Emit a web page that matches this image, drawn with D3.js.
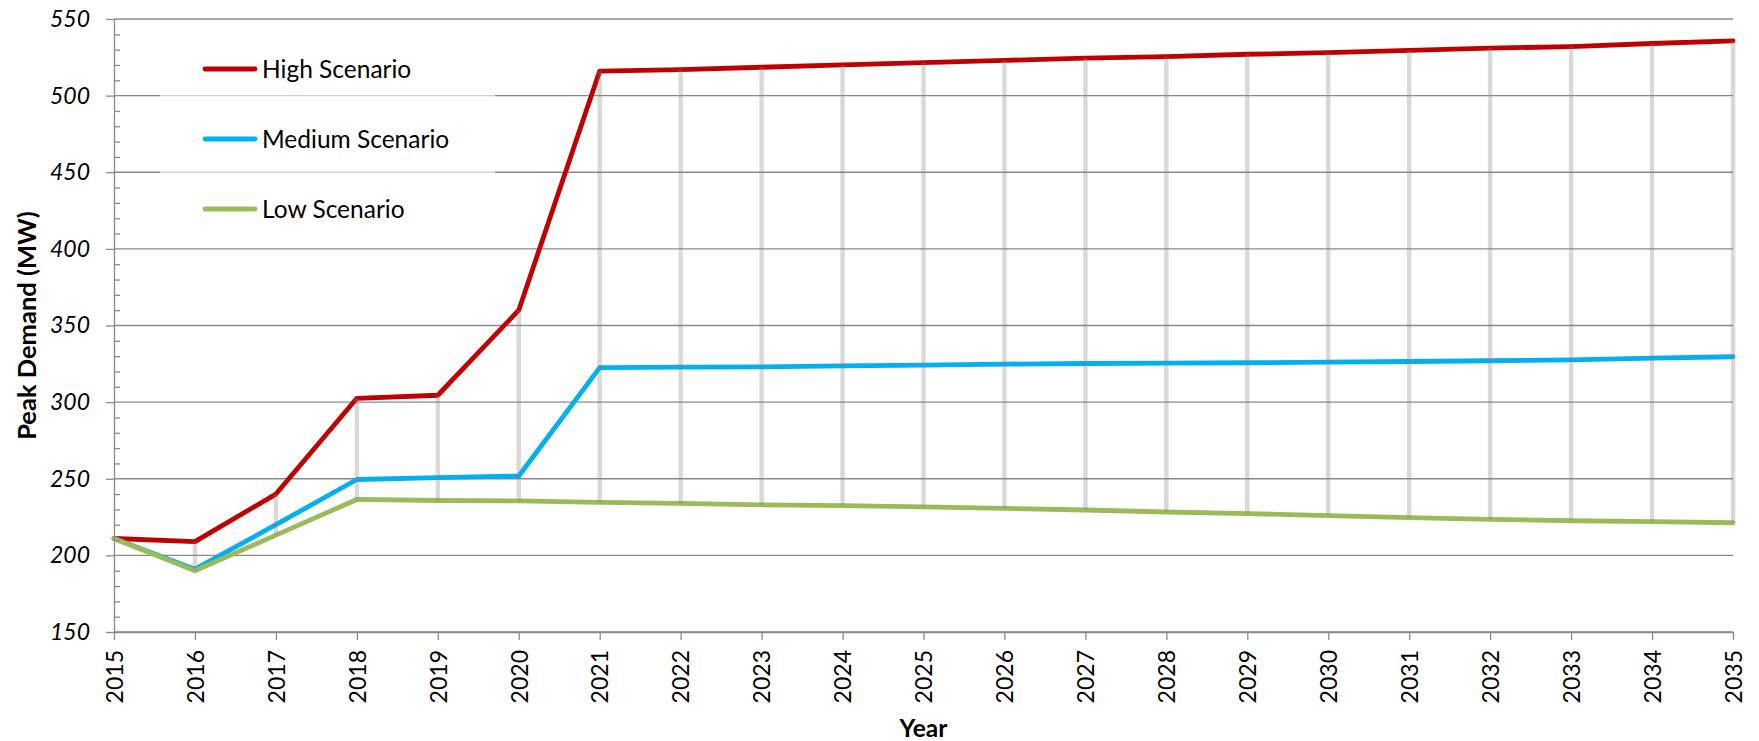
<!DOCTYPE html>
<html>
<head>
<meta charset="utf-8">
<script src="https://cdn.jsdelivr.net/npm/d3@7"></script>
<style>
  html, body { margin: 0; padding: 0; background: #fff; }
  svg { display: block; font-family: Lato, "Open Sans", sans-serif; }
</style>
</head>
<body>
<svg id="chart" width="1759" height="741"></svg>
<script>
// Peak demand projections (MW) by scenario
const years = d3.range(2015, 2036);
const highScenario = [211, 209, 240, 302.5, 304.5, 360, 516, 517, 518.5, 520, 521.5,
  523, 524.5, 525.5, 527, 528, 529.5, 531, 532, 534, 535.7];
const mediumScenario = [211, 191, 220, 249.5, 250.7, 251.8, 322.5, 322.8, 323, 323.7, 324.1,
  324.8, 325.2, 325.4, 325.7, 326.1, 326.5, 327, 327.6, 328.7, 329.6];
const lowScenario = [211, 190, 213.2, 236.5, 235.8, 235.5, 234.6, 233.9, 233, 232.4, 231.7,
  230.7, 229.6, 228.3, 227.2, 226, 224.6, 223.5, 222.6, 222, 221.3];
const yTicks = [150, 200, 250, 300, 350, 400, 450, 500, 550];
const seriesNames = ["High Scenario", "Medium Scenario", "Low Scenario"];
const seriesColors = ["#C00000", "#00B0F0", "#9BBB59"];

const series = [highScenario, mediumScenario, lowScenario].map((vals, i) => ({
  name: seriesNames[i], color: seriesColors[i],
  points: vals.map((v, j) => ({ year: years[j], value: v }))
}));

const svg = d3.select("#chart");
const plotLeft = 114, plotRight = 1733, plotTop = 19, plotBottom = 632;
const gridColor = "#8a8a8a";

const x = d3.scaleLinear().domain([2015, 2035]).range([plotLeft, plotRight]);
const y = d3.scaleLinear().domain([150, 550]).range([plotBottom, plotTop]);

// horizontal gridlines
svg.append("g")
  .selectAll("line")
  .data(yTicks)
  .join("line")
  .attr("x1", plotLeft).attr("x2", plotRight)
  .attr("y1", d => y(d)).attr("y2", d => y(d))
  .attr("stroke", gridColor).attr("stroke-width", 1.3);

// scenario lines
const line = d3.line().x(d => x(d.year)).y(d => y(d.value));
svg.append("g")
  .selectAll("path")
  .data(series)
  .join("path")
  .attr("d", d => line(d.points))
  .attr("fill", "none")
  .attr("stroke", d => d.color)
  .attr("stroke-width", 4.8)
  .attr("stroke-linejoin", "round")
  .attr("stroke-linecap", "round");

// high-low lines between the lowest and highest scenario each year
const ranges = years.map((yr, i) => {
  const vals = [highScenario[i], mediumScenario[i], lowScenario[i]];
  return { year: yr, lo: d3.min(vals), hi: d3.max(vals) };
});
svg.append("g")
  .selectAll("line")
  .data(ranges)
  .join("line")
  .attr("x1", d => x(d.year)).attr("x2", d => x(d.year))
  .attr("y1", d => y(d.lo)).attr("y2", d => y(d.hi))
  .attr("stroke", "#808080").attr("stroke-opacity", 0.3)
  .attr("stroke-width", 4.5);

// y axis: major ticks outside, minor ticks inside
const yAxis = svg.append("g")
  .attr("transform", `translate(${plotLeft},0)`)
  .call(d3.axisLeft(y).tickValues(yTicks).tickSize(8).tickSizeOuter(0).tickPadding(16));
yAxis.select(".domain").attr("stroke", gridColor).attr("stroke-width", 1.3);
yAxis.selectAll(".tick line").attr("stroke", gridColor).attr("stroke-width", 1.3);
yAxis.selectAll(".tick text")
  .attr("font-size", 23).attr("font-style", "italic").attr("fill", "#000")
  .attr("font-family", "Lato, sans-serif");

const minorTicks = d3.range(150, 551, 10).filter(v => v % 50 !== 0);
const yMinor = svg.append("g")
  .attr("transform", `translate(${plotLeft},0)`)
  .call(d3.axisLeft(y).tickValues(minorTicks).tickSize(-6).tickSizeOuter(0).tickFormat(""));
yMinor.select(".domain").remove();
yMinor.selectAll(".tick line").attr("stroke", gridColor).attr("stroke-width", 1.3);

// x axis with vertical year labels
const xAxis = svg.append("g")
  .attr("transform", `translate(0,${plotBottom})`)
  .call(d3.axisBottom(x).tickValues(years).tickFormat(d3.format("d")).tickSize(8).tickSizeOuter(0));
xAxis.select(".domain").attr("stroke", gridColor).attr("stroke-width", 1.3);
xAxis.selectAll(".tick line").attr("stroke", gridColor).attr("stroke-width", 1.3);
xAxis.selectAll(".tick text")
  .attr("transform", "rotate(-90)")
  .attr("x", -18).attr("y", 0).attr("dy", "0.36em")
  .attr("text-anchor", "end")
  .attr("font-size", 23).attr("fill", "#000")
  .attr("font-family", "Lato, sans-serif");

// axis titles
svg.append("text")
  .attr("x", (plotLeft + plotRight) / 2).attr("y", 737)
  .attr("text-anchor", "middle")
  .attr("font-size", 24.5).attr("font-weight", "bold")
  .text("Year");
svg.append("text")
  .attr("transform", `translate(36,${(plotTop + plotBottom) / 2}) rotate(-90)`)
  .attr("text-anchor", "middle")
  .attr("font-size", 25.5).attr("font-weight", "bold")
  .text("Peak Demand (MW)");

// legend
const legend = svg.append("g");
legend.append("rect")
  .attr("x", 160).attr("y", 36).attr("width", 335).attr("height", 205)
  .attr("fill", "#fff").attr("fill-opacity", 0.62);
const items = legend.selectAll("g.item")
  .data(series)
  .join("g")
  .attr("class", "item")
  .attr("transform", (d, i) => `translate(0,${69 + i * 70})`);
items.append("line")
  .attr("x1", 205).attr("x2", 255)
  .attr("stroke", d => d.color).attr("stroke-width", 4.8)
  .attr("stroke-linecap", "round");
items.append("text")
  .attr("x", 262).attr("dy", "0.36em")
  .attr("font-size", 24.5).attr("fill", "#000")
  .text(d => d.name);
</script>
</body>
</html>
